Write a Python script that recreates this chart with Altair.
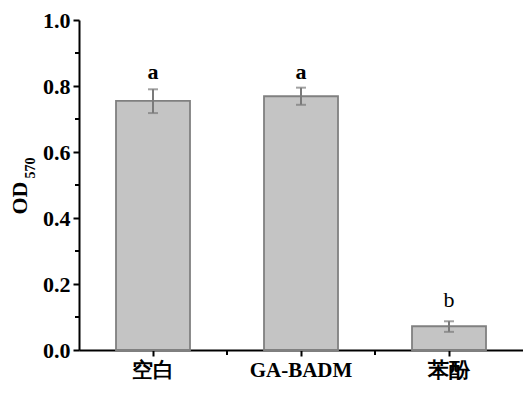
import altair as alt
import pandas as pd

groups = ["空白", "GA-BADM", "苯酚"]
means = [0.755, 0.769, 0.072]
err_lo = [0.718, 0.743, 0.055]
err_hi = [0.790, 0.795, 0.087]
letters = ["a", "a", "b"]
letter_y = [0.822, 0.822, 0.129]
y_major = [0.0, 0.2, 0.4, 0.6, 0.8, 1.0]
y_minor = [0.1, 0.3, 0.5, 0.7, 0.9]
x_minor = ["空白", "GA-BADM"]

df = pd.DataFrame(dict(group=groups, mean=means, lo=err_lo, hi=err_hi,
                       letter=letters, ly=letter_y))

W, H = 444, 330
FONT = "Liberation Serif"
BAR_FILL = "#c4c4c4"
BAR_STROKE = "#808080"
ERR = "#7a7a7a"

xscale = alt.Scale(domain=groups, paddingInner=0, paddingOuter=0)
yscale = alt.Scale(domain=[0, 1], nice=False, zero=True)

x_axis = alt.Axis(title=None, labelAngle=0, labelFont=FONT, labelFontSize=21,
                  labelFontWeight="bold", labelColor="black", tickSize=6,
                  tickColor="black", tickWidth=2, domainColor="black",
                  domainWidth=2, labelPadding=3, grid=False)
y_axis = alt.Axis(title=None, values=y_major, format=".1f", labelFont=FONT,
                  labelFontSize=22, labelFontWeight="bold", labelColor="black",
                  tickSize=6, tickColor="black", tickWidth=2, domainColor="black",
                  domainWidth=2, labelPadding=3, grid=False)


def X(**kw):
    return alt.X("group:N", scale=xscale, axis=x_axis, **kw)


def Y(field):
    return alt.Y(field, scale=yscale, axis=y_axis)


bars = alt.Chart(df).mark_bar(width={"band": 0.5}, fill=BAR_FILL,
                              stroke=BAR_STROKE, strokeWidth=1.8).encode(
    x=X(), y=Y("mean:Q"))

err_rule = alt.Chart(df).mark_rule(color=ERR, strokeWidth=2).encode(
    x=X(), y=Y("lo:Q"), y2="hi:Q")
cap_lo = alt.Chart(df).mark_tick(color=ERR, size=10, thickness=2,
                                 orient="horizontal").encode(x=X(), y=Y("lo:Q"))
cap_hi = alt.Chart(df).mark_tick(color=ERR, size=10, thickness=2,
                                 orient="horizontal").encode(x=X(), y=Y("hi:Q"))

txt_a = alt.Chart(df).transform_filter(alt.datum.letter == "a").mark_text(
    font=FONT, fontSize=22, fontWeight="bold", color="black",
    baseline="alphabetic").encode(x=X(), y=Y("ly:Q"), text="letter:N")
txt_b = alt.Chart(df).transform_filter(alt.datum.letter == "b").mark_text(
    font=FONT, fontSize=22, fontWeight="normal", color="black",
    baseline="alphabetic").encode(x=X(), y=Y("ly:Q"), text="letter:N")

minor_y = alt.Chart(pd.DataFrame({"v": y_minor})).mark_rule(
    color="black", strokeWidth=2).encode(
    y=Y("v:Q"), x=alt.value(-4), x2=alt.value(0))

minor_x = alt.Chart(pd.DataFrame({"group": x_minor})).mark_rule(
    color="black", strokeWidth=2).encode(
    x=X(bandPosition=1), y=alt.value(H), y2=alt.value(H + 5))

title_od = alt.Chart(pd.DataFrame({"t": ["OD"]})).mark_text(
    font=FONT, fontSize=22, fontWeight="bold", color="black",
    angle=270, align="center", baseline="middle").encode(
    text="t:N", x=alt.value(-59), y=alt.value(178))
title_sub = alt.Chart(pd.DataFrame({"t": ["570"]})).mark_text(
    font=FONT, fontSize=14, fontWeight="bold", color="black",
    angle=270, align="center", baseline="middle").encode(
    text="t:N", x=alt.value(-48), y=alt.value(148))

chart = alt.layer(bars, err_rule, cap_lo, cap_hi, txt_a, txt_b, minor_y,
                  minor_x, title_od, title_sub).properties(
    width=W, height=H,
    autosize=alt.AutoSizeParams(type="none"),
    padding={"left": 71, "top": 12, "right": 0, "bottom": 30},
    background="white",
).configure_view(stroke=None)

chart.save("out.html", embed_options={"renderer": "svg", "actions": False})
